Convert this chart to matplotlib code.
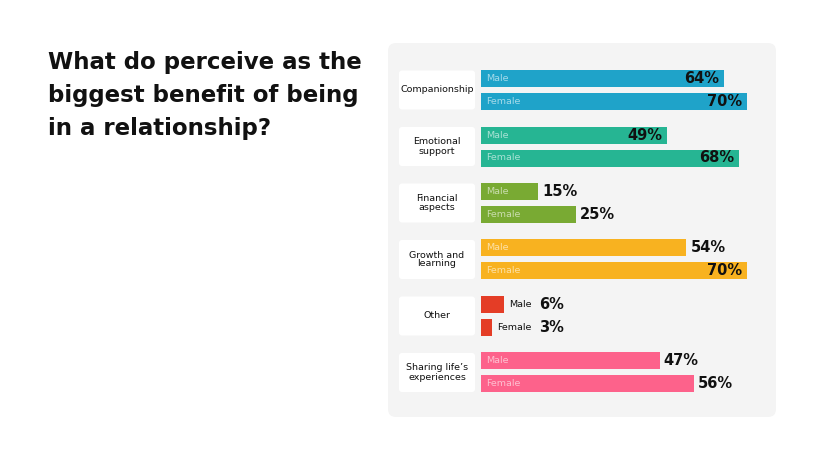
import matplotlib
matplotlib.use("Agg")
import matplotlib.pyplot as plt
import numpy as np
from matplotlib.patches import FancyBboxPatch

plt.rcParams['font.family'] = ['DejaVu Sans']

title = "What do perceive as the\nbiggest benefit of being\nin a relationship?"
categories = ["Companionship", "Emotional\nsupport", "Financial\naspects",
              "Growth and\nlearning", "Other", "Sharing life\u2019s\nexperiences"]
male = [64, 49, 15, 54, 6, 47]
female = [70, 68, 25, 70, 3, 56]
colors = ["#1fa3c9", "#26b593", "#79aa33", "#f8b220", "#e43d26", "#fd628b"]
# which value labels sit inside the bar end
male_inside = [True, True, False, False, False, False]
female_inside = [True, True, False, True, False, False]

W, H = 820, 462
fig = plt.figure(figsize=(W / 100, H / 100), dpi=100)
fig.patch.set_facecolor("white")

# background layer in pixel units
bg = fig.add_axes([0, 0, 1, 1])
bg.set_xlim(0, W)
bg.set_ylim(H, 0)
bg.axis("off")

bg.text(48, 51, title, fontsize=16.5, fontweight="bold", color="#111111",
        va="top", ha="left", linespacing=1.55)

panel = FancyBboxPatch((388, 43), 388, 374, boxstyle="round,pad=0,rounding_size=8",
                       fc="#f4f4f4", ec="none")
bg.add_patch(panel)

centers = 90 + 56.5 * np.arange(len(categories))
for yc, cat in zip(centers, categories):
    box = FancyBboxPatch((399, yc - 19.5), 76, 39, boxstyle="round,pad=0,rounding_size=3",
                         fc="white", ec="none")
    bg.add_patch(box)
    bg.text(437, yc, cat, fontsize=6.8, ha="center", va="center",
            color="#111111", linespacing=1.0)

# bar layer: x in percent, y in pixel rows
ax = fig.add_axes([481 / W, (H - 417) / H, 295 / W, 374 / H])
ax.set_xlim(0, 295 / 3.8)
ax.set_ylim(417, 43)
ax.axis("off")
ax.patch.set_visible(False)

off = 11.5
ax.barh(centers - off, male, height=17, color=colors)
ax.barh(centers + off, female, height=17, color=colors)


def label_bar(y, v, name, inside):
    if v < 10:
        lab = ax.annotate(name, xy=(v, y), xytext=(3.6, 0), textcoords="offset points",
                          ha="left", va="center", fontsize=6.8, color="#111111")
        ax.annotate(f"{v}%", xy=(1, 0.5), xycoords=lab, xytext=(5.5, 0),
                    textcoords="offset points", ha="left", va="center",
                    fontsize=10.5, fontweight="bold", color="#111111")
        return
    ax.annotate(name, xy=(0, y), xytext=(3.6, 0), textcoords="offset points",
                ha="left", va="center", fontsize=6.8, color=(1, 1, 1, 0.6))
    if inside:
        ax.annotate(f"{v}%", xy=(v, y), xytext=(-3.6, 0), textcoords="offset points",
                    ha="right", va="center", fontsize=10.5, fontweight="bold",
                    color="#111111")
    else:
        ax.annotate(f"{v}%", xy=(v, y), xytext=(3, 0), textcoords="offset points",
                    ha="left", va="center", fontsize=10.5, fontweight="bold",
                    color="#111111")


for i, yc in enumerate(centers):
    label_bar(yc - off, male[i], "Male", male_inside[i])
    label_bar(yc + off, female[i], "Female", female_inside[i])

fig.savefig("out.png", dpi=100, facecolor="white")
